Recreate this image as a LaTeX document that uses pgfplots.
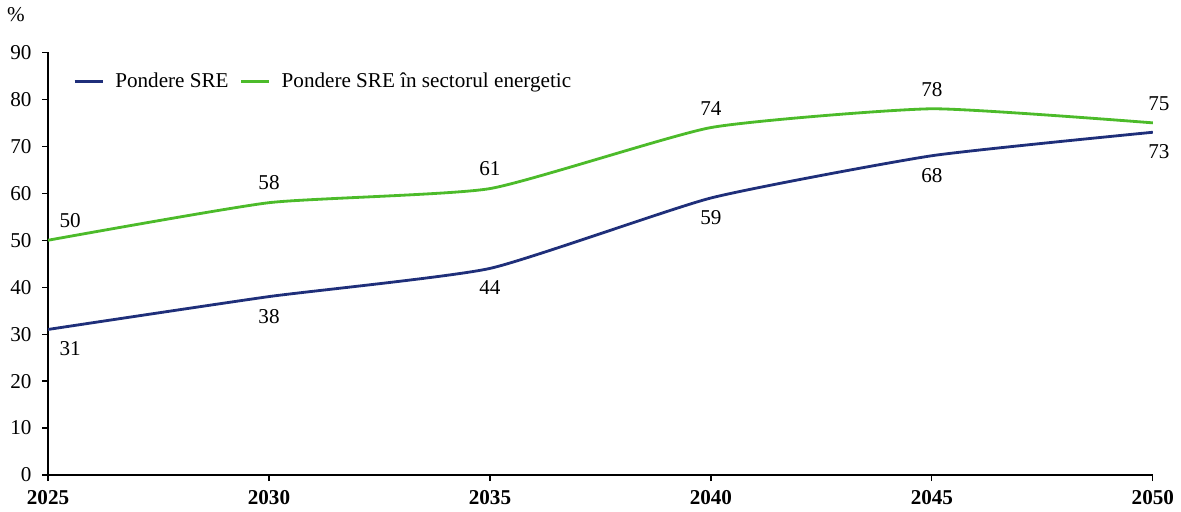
\documentclass[border=0pt]{standalone}
\usepackage{pgfplots}
\pgfplotsset{compat=1.18}
\usepackage{pgfplotstable}
\usepackage{fontspec}
\setmainfont{Liberation Serif}
\definecolor{cblue}{RGB}{31,47,122}
\definecolor{cgreen}{RGB}{76,187,42}
\pgfplotstableread{
x y dx
2025 31 11
2030 38 0
2035 44 0
2040 59 0
2045 68 0
2050 73 3
}\blue
\pgfplotstableread{
x y dx
2025 50 11
2030 58 0
2035 61 0
2040 74 0
2045 78 0
2050 75 3
}\green
\begin{document}
\fontsize{10.5}{12}\selectfont
\begin{tikzpicture}
\begin{axis}[
  scale only axis,
  width=549pt, height=210pt,
  xmin=2025, xmax=2050, ymin=0, ymax=90,
  xtick={2025,2030,...,2050},
  ytick={0,10,...,90},
  axis x line*=bottom, axis y line*=left,
  axis line style={line width=0.6pt},
  tick style={line width=0.6pt, black},
  tick align=outside,
  major tick length=3pt,
  xticklabel style={font=\fontsize{10.5}{12}\selectfont\bfseries, yshift=-1pt},
  yticklabel style={font=\fontsize{10.5}{12}\selectfont, xshift=-1.5pt},
  /pgf/number format/assume math mode=true,
  /pgf/number format/1000 sep={},
  legend style={draw=none, fill=none, at={(rel axis cs:0.017,0.97)}, anchor=north west,
    font=\fontsize{10.5}{12}\selectfont, column sep=4pt, nodes={inner sep=1.5pt}},
  legend columns=2,
  legend image code/.code={\draw[#1] (0pt,0pt) -- (14pt,0pt);},
  clip=false,
]
\addplot[cblue, line width=1.4pt, smooth, tension=0.3, mark=none,
  nodes near coords, point meta=explicit,
  visualization depends on={\thisrow{dx} \as \dx},
  every node near coord/.append style={anchor=north, yshift=-2pt, xshift=\dx pt, font=\fontsize{10.5}{12}\selectfont, text=black}]
  table[x=x, y=y, meta=y] {\blue};
\addlegendentry{Pondere SRE}
\addplot[cgreen, line width=1.4pt, smooth, tension=0.3, mark=none,
  nodes near coords, point meta=explicit,
  visualization depends on={\thisrow{dx} \as \dx},
  every node near coord/.append style={anchor=south, yshift=2pt, xshift=\dx pt, font=\fontsize{10.5}{12}\selectfont, text=black}]
  table[x=x, y=y, meta=y] {\green};
\addlegendentry{Pondere SRE în sectorul energetic}
\node[font=\fontsize{10.5}{12}\selectfont] at ([xshift=-16pt, yshift=19pt]rel axis cs:0,1) {\%};
\end{axis}
\end{tikzpicture}
\end{document}
